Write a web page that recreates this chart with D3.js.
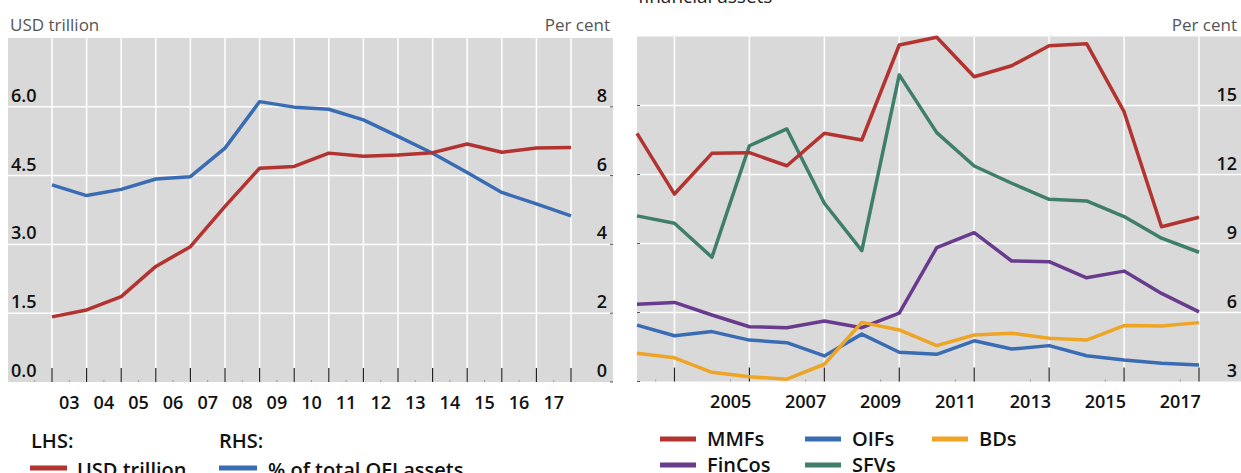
<!DOCTYPE html>
<html>
<head>
<meta charset="utf-8">
<script src="https://cdn.jsdelivr.net/npm/d3@7"></script>
<style>
  body { margin: 0; background: #fff; }
  svg { display: block; font-family: "Open Sans", "Noto Sans", sans-serif; }
</style>
</head>
<body>
<script>
// year-end observations, 2002-2017
const years = [2002, 2003, 2004, 2005, 2006, 2007, 2008, 2009, 2010, 2011, 2012, 2013, 2014, 2015, 2016, 2017];

// left panel
const usdTrillion = [1.42, 1.57, 1.86, 2.52, 2.95, 3.83, 4.66, 4.70, 4.99, 4.92, 4.95, 5.00, 5.19, 5.01, 5.10, 5.11];
const shareOfOfi = [5.73, 5.42, 5.60, 5.90, 5.97, 6.80, 8.15, 7.99, 7.93, 7.62, 7.14, 6.65, 6.09, 5.51, 5.18, 4.83];
const leftTicks = [0, 1.5, 3.0, 4.5, 6.0];
const rightTicks = [0, 2, 4, 6, 8];
const leftLabels = ["03", "04", "05", "06", "07", "08", "09", "10", "11", "12", "13", "14", "15", "16", "17"];

// right panel, per cent of financial assets
const mmfs = [13.79, 11.15, 12.92, 12.95, 12.38, 13.79, 13.50, 17.63, 17.97, 16.25, 16.73, 17.60, 17.69, 14.73, 9.73, 10.14];
const oifs = [5.45, 4.99, 5.17, 4.80, 4.69, 4.11, 5.06, 4.27, 4.18, 4.77, 4.41, 4.56, 4.12, 3.93, 3.79, 3.72];
const bds = [4.23, 4.03, 3.40, 3.21, 3.10, 3.75, 5.57, 5.24, 4.56, 5.02, 5.10, 4.88, 4.80, 5.43, 5.41, 5.56];
const finCos = [6.36, 6.44, 5.89, 5.38, 5.34, 5.63, 5.34, 5.97, 8.82, 9.47, 8.24, 8.21, 7.51, 7.80, 6.83, 6.03];
const sfvs = [10.20, 9.88, 8.40, 13.25, 13.98, 10.75, 8.69, 16.33, 13.82, 12.37, 11.62, 10.92, 10.85, 10.17, 9.23, 8.62];
const pctTicks = [3, 6, 9, 12, 15];
const rightLabelYears = ["2003", "2004", "2005", "2006", "2007", "2008", "2009", "2010", "2011", "2012", "2013", "2014", "2015", "2016", "2017"];
const shownLabels = ["2005", "2007", "2009", "2011", "2013", "2015", "2017"];

const colors = {
    red: "#b2332f",
    blue: "#3a6cb4",
    orange: "#eea424",
    purple: "#693b8c",
    green: "#3f7e6a"
};

const width = 1241, height = 473;
const svg = d3.select("body").append("svg")
    .attr("width", width)
    .attr("height", height)
    .attr("viewBox", [0, 0, width, height]);

function panel(opt) {
    const g = svg.append("g");
    g.append("rect")
        .attr("x", opt.left).attr("y", opt.top)
        .attr("width", opt.right - opt.left).attr("height", opt.bottom - opt.top)
        .attr("fill", "#d9d9d9");
    return g;
}

function line(x, y) {
    return d3.line().x((d, i) => x(years[i])).y(d => y(d));
}

// ---------- left panel ----------
{
    const L = {left: 8, right: 613, top: 38, bottom: 382};
    const g = panel(L);
    const x = d3.scaleLinear().domain([2002, 2017]).range([52, 571]);
    const band = d3.scaleBand().domain(leftLabels).range([52, 571]);
    const yL = d3.scaleLinear().domain([0, 7.5]).range([L.bottom, L.top]);
    const yR = d3.scaleLinear().domain([0, 10]).range([L.bottom, L.top]);

    // grid
    g.append("g").selectAll("line").data(leftTicks.slice(1)).join("line")
        .attr("x1", L.left).attr("x2", L.right)
        .attr("y1", d => yL(d)).attr("y2", d => yL(d))
        .attr("stroke", "#fff").attr("stroke-width", 1.5);
    g.append("g").selectAll("line").data(years).join("line")
        .attr("x1", d => x(d)).attr("x2", d => x(d))
        .attr("y1", L.top).attr("y2", L.bottom)
        .attr("stroke", "#fff").attr("stroke-width", 1.5);

    // x ticks
    g.append("g").selectAll("line").data(years).join("line")
        .attr("x1", d => x(d)).attr("x2", d => x(d))
        .attr("y1", L.bottom - 14).attr("y2", L.bottom)
        .attr("stroke", "#222").attr("stroke-width", 1.2);
    g.append("g").selectAll("line").data(["02"].concat(leftLabels)).join("line")
        .attr("x1", (d, i) => x(years[0]) - band.bandwidth() / 2 + i * band.step())
        .attr("x2", (d, i) => x(years[0]) - band.bandwidth() / 2 + i * band.step())
        .attr("y1", L.bottom - 2).attr("y2", L.bottom)
        .attr("stroke", "#999").attr("stroke-width", 1);

    // y tick stubs on the right edge
    g.append("g").selectAll("line").data(rightTicks).join("line")
        .attr("x1", L.right - 3).attr("x2", L.right)
        .attr("y1", d => yR(d)).attr("y2", d => yR(d))
        .attr("stroke", "#555");

    g.append("g")
        .attr("transform", `translate(0,${L.bottom})`)
        .call(d3.axisBottom(band).tickSize(0).tickPadding(14))
        .call(a => a.select(".domain").remove())
        .call(a => a.selectAll("text")
            .attr("font-size", 18).attr("font-weight", 600)
            .attr("fill", "#111").attr("font-family", "Open Sans"));

    g.append("g").selectAll("text").data(leftTicks).join("text")
        .attr("x", 11).attr("y", d => yL(d) - 5)
        .attr("font-size", 18).attr("font-weight", 600).attr("fill", "#111")
        .text(d => d3.format(".1f")(d));
    g.append("g").selectAll("text").data(rightTicks).join("text")
        .attr("x", 607).attr("y", d => yR(d) - 5)
        .attr("text-anchor", "end")
        .attr("font-size", 18).attr("font-weight", 600).attr("fill", "#111")
        .text(d => d);

    g.append("path").datum(shareOfOfi)
        .attr("fill", "none").attr("stroke", colors.blue).attr("stroke-width", 3.5)
        .attr("stroke-linejoin", "round")
        .attr("d", line(x, yR));
    g.append("path").datum(usdTrillion)
        .attr("fill", "none").attr("stroke", colors.red).attr("stroke-width", 3.5)
        .attr("stroke-linejoin", "round")
        .attr("d", line(x, yL));

    svg.append("text").attr("x", 10).attr("y", 31)
        .attr("font-size", 17).attr("fill", "#555").text("USD trillion");
    svg.append("text").attr("x", 610).attr("y", 31).attr("text-anchor", "end")
        .attr("font-size", 17).attr("fill", "#555").text("Per cent");

    // legend
    const lg = svg.append("g").attr("font-size", 20).attr("font-weight", 600).attr("fill", "#111");
    lg.append("text").attr("x", 31).attr("y", 448).text("LHS:");
    lg.append("text").attr("x", 219).attr("y", 448).text("RHS:");
    lg.append("line").attr("x1", 30).attr("x2", 67).attr("y1", 468).attr("y2", 468)
        .attr("stroke", colors.red).attr("stroke-width", 5);
    lg.append("text").attr("x", 77).attr("y", 477).text("USD trillion");
    lg.append("line").attr("x1", 219).attr("x2", 257).attr("y1", 468).attr("y2", 468)
        .attr("stroke", colors.blue).attr("stroke-width", 5);
    lg.append("text").attr("x", 268).attr("y", 477).text("% of total OFI assets");
}

// ---------- right panel ----------
{
    const R = {left: 637, right: 1241, top: 36.5, bottom: 381.5};
    const g = panel(R);
    const x = d3.scaleLinear().domain([2002, 2017]).range([637, 1199]);
    const band = d3.scaleBand().domain(rightLabelYears).range([637, 1199]);
    const y = d3.scaleLinear().domain([3, 18]).range([R.bottom, R.top]);
    const gridYears = years.filter(d => d % 2 === 1);

    g.append("g").selectAll("line").data(pctTicks.slice(1)).join("line")
        .attr("x1", R.left).attr("x2", R.right)
        .attr("y1", d => y(d)).attr("y2", d => y(d))
        .attr("stroke", "#fff").attr("stroke-width", 1.5);
    g.append("g").selectAll("line").data(gridYears).join("line")
        .attr("x1", d => x(d)).attr("x2", d => x(d))
        .attr("y1", R.top).attr("y2", R.bottom)
        .attr("stroke", "#fff").attr("stroke-width", 1.5);

    g.append("g").selectAll("line").data(gridYears).join("line")
        .attr("x1", d => x(d)).attr("x2", d => x(d))
        .attr("y1", R.bottom - 14).attr("y2", R.bottom)
        .attr("stroke", "#222").attr("stroke-width", 1.2);
    g.append("g").selectAll("line").data(rightLabelYears.filter(d => +d % 2 === 1)).join("line")
        .attr("x1", d => band(d) + band.bandwidth() / 2)
        .attr("x2", d => band(d) + band.bandwidth() / 2)
        .attr("y1", R.bottom - 2).attr("y2", R.bottom)
        .attr("stroke", "#999").attr("stroke-width", 1);

    // y tick stubs on the left edge
    g.append("g").selectAll("line").data(pctTicks).join("line")
        .attr("x1", R.left).attr("x2", R.left + 3)
        .attr("y1", d => y(d)).attr("y2", d => y(d))
        .attr("stroke", "#555");

    g.append("g")
        .attr("transform", `translate(0,${R.bottom})`)
        .call(d3.axisBottom(band).tickValues(shownLabels).tickSize(0).tickPadding(14))
        .call(a => a.select(".domain").remove())
        .call(a => a.selectAll("text")
            .attr("font-size", 18).attr("font-weight", 600)
            .attr("fill", "#111").attr("font-family", "Open Sans"));

    g.append("g").selectAll("text").data(pctTicks).join("text")
        .attr("x", 1237).attr("y", d => y(d) - 5)
        .attr("text-anchor", "end")
        .attr("font-size", 18).attr("font-weight", 600).attr("fill", "#111")
        .text(d => d);

    const series = [
        {name: "SFVs", values: sfvs, color: colors.green},
        {name: "FinCos", values: finCos, color: colors.purple},
        {name: "OIFs", values: oifs, color: colors.blue},
        {name: "BDs", values: bds, color: colors.orange},
        {name: "MMFs", values: mmfs, color: colors.red}
    ];
    g.append("g").selectAll("path").data(series).join("path")
        .attr("fill", "none")
        .attr("stroke", d => d.color).attr("stroke-width", 3.5)
        .attr("stroke-linejoin", "round")
        .attr("d", d => line(x, y)(d.values));

    svg.append("text").attr("x", 638).attr("y", 3)
        .attr("font-size", 19).attr("fill", "#222").text("financial assets");
    svg.append("text").attr("x", 1237).attr("y", 31).attr("text-anchor", "end")
        .attr("font-size", 17).attr("fill", "#555").text("Per cent");

    const legendItems = [
        {name: "MMFs", color: colors.red, x: 660, y: 439},
        {name: "OIFs", color: colors.blue, x: 805, y: 439},
        {name: "BDs", color: colors.orange, x: 932, y: 439},
        {name: "FinCos", color: colors.purple, x: 660, y: 465},
        {name: "SFVs", color: colors.green, x: 805, y: 465}
    ];
    const lg = svg.append("g").selectAll("g").data(legendItems).join("g")
        .attr("transform", d => `translate(${d.x},${d.y})`);
    lg.append("line").attr("x1", 0).attr("x2", 36)
        .attr("stroke", d => d.color).attr("stroke-width", 5);
    lg.append("text").attr("x", 47).attr("y", 7)
        .attr("font-size", 20).attr("font-weight", 600).attr("fill", "#111")
        .text(d => d.name);
}
</script>
</body>
</html>
